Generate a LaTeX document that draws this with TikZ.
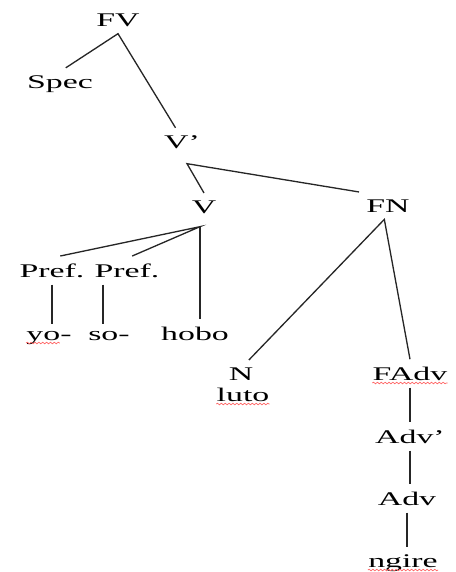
\documentclass[tikz,border=0pt]{standalone}
\usepackage{fontspec}
\setmainfont[FakeStretch=1.75]{Liberation Serif}
\usetikzlibrary{calc, decorations.pathmorphing}

\colorlet{RamaArbol}{black!85}
\colorlet{ErrorOrtografico}{red!60}

\tikzset{
    categoria/.style={anchor=base, inner sep=4pt, font=\fontsize{11}{13}\selectfont},
    rama/.style={draw=RamaArbol, line width=0.75pt},
    subrayado/.style={draw=ErrorOrtografico, line width=0.4pt, decorate,
        decoration={snake, amplitude=0.45pt, segment length=2.2pt}},
}

\begin{document}
\begin{tikzpicture}[x=0.02cm, y=-0.02cm]

\useasboundingbox (0, 0) rectangle (456, 572);

% Categorías del árbol (posición = línea base del texto)
\node[categoria] (FV)    at (118, 26)  {FV};
\node[categoria] (Spec)  at (60, 88)   {Spec};
\node[categoria] (Vbar)  at (182, 148) {V'};
\node[categoria] (V)     at (204, 213) {V};
\node[categoria] (FN)    at (388, 212) {FN};
\node[categoria] (Pref1) at (52, 277)  {Pref.};
\node[categoria] (Pref2) at (127, 277) {Pref.};
\node[categoria] (N)     at (241, 380) {N};
\node[categoria] (FAdv)  at (410, 380) {FAdv};
\node[categoria] (Advbar) at (410, 443) {Adv'};
\node[categoria] (Adv)   at (407, 505) {Adv};

% Palabras (hojas del árbol)
\node[categoria] (yo)    at (49, 340)  {yo-};
\node[categoria] (so)    at (109, 340) {so-};
\node[categoria] (hobo)  at (195, 340) {hobo};
\node[categoria] (luto)  at (243, 401) {luto};
\node[categoria] (ngire) at (403, 567) {ngire};

% Puntos de donde salen varias ramas
\coordinate (Vbar-bajo) at ($(Vbar.south)+(5, 8)$);
\coordinate (V-bajo) at ($(V.south)+(-4, 6)$);
\coordinate (Pref2-pie) at ($(Pref2.south west)!0.2!(Pref2.south east)$);

% Ramas
\draw[rama] (Spec.70) -- (FV.south) -- (Vbar.115);
\draw[rama] (V.north) -- (Vbar-bajo) -- (FN.north west);
\draw[rama] (Pref1.60) -- (V-bajo) -- (Pref2.70);
\draw[rama] (V-bajo) -- (V-bajo |- hobo.north);
\draw[rama] (Pref1.south) -- (Pref1.south |- yo.north);
\draw[rama] (Pref2-pie) -- (Pref2-pie |- so.north);
\draw[rama] (N.60) -- (FN.-105) -- (FAdv.north);
\draw[rama] (FAdv.south) -- (FAdv.south |- Advbar.north);
\draw[rama] (Advbar.south) -- (Advbar.south |- Adv.north);
\draw[rama] (Adv.south) -- (Adv.south |- ngire.north);

% Subrayado rojo del corrector ortográfico
\draw[subrayado] ($(yo.base west)+(7, 3)$) -- ($(yo.base east)+(-19, 3)$);
\draw[subrayado] ($(luto.base west)+(7, 3)$) -- ($(luto.base east)+(-7, 3)$);
\draw[subrayado] ($(FAdv.base west)+(7, 3)$) -- ($(FAdv.base east)+(-7, 3)$);
\draw[subrayado] ($(ngire.base west)+(7, 3)$) -- ($(ngire.base east)+(-7, 3)$);

\end{tikzpicture}
\end{document}
